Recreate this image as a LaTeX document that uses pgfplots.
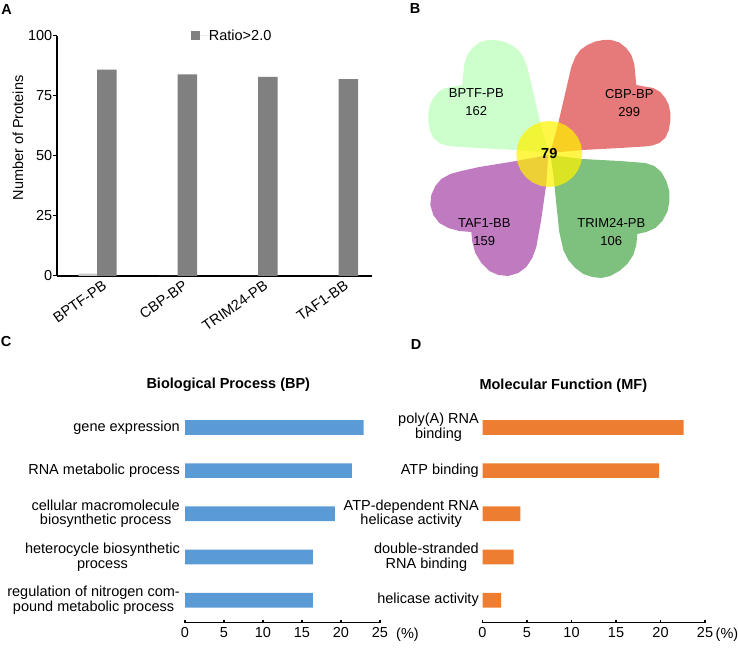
\documentclass[border=0pt]{standalone}
\usepackage{pgfplots}
\pgfplotsset{compat=1.18}
\usepackage{fontspec}
\setmainfont{Liberation Sans}
\definecolor{barA}{RGB}{128,128,128}
\definecolor{barAlight}{RGB}{200,200,200}
\definecolor{barC}{RGB}{91,155,213}
\definecolor{barD}{RGB}{237,125,49}
\definecolor{pBPTF}{RGB}{204,255,204}
\definecolor{pCBP}{RGB}{230,122,122}
\definecolor{pTAF}{RGB}{192,122,192}
\definecolor{pTRIM}{RGB}{126,192,126}
\newcommand\fs{\fontsize{14.5bp}{16bp}\selectfont}
\newcommand\fst{\fontsize{14.5bp}{14.5bp}\selectfont}
\newcommand\fsb{\fontsize{13bp}{18bp}\selectfont}
\pgfplotsset{/pgf/number format/assume math mode=true,
  tick label style={font=\fs}}
\begin{document}
\fs
\begin{tikzpicture}
\path[use as bounding box] (0bp,0bp) rectangle (738bp,650bp);
% ---------- Panel letters ----------
\node[font=\fs\bfseries] at (6.7bp,640.8bp) {A};
\node[font=\fs\bfseries] at (415bp,641.7bp) {B};
\node[font=\fs\bfseries] at (6bp,308.3bp) {C};
\node[font=\fs\bfseries] at (416bp,305bp) {D};
% ---------- Panel A ----------
\begin{axis}[
  at={(57bp,374bp)}, anchor=south west, scale only axis,
  width=315bp, height=240bp,
  xmin=-0.621, xmax=3.292, ymin=0, ymax=100,
  axis x line=bottom, axis y line=left,
  axis line style={-, line width=1.3bp, black},
  ytick={0,25,50,75,100}, tick align=outside, major tick length=4bp,
  ytick style={line width=1bp, black},
  y tick label style={inner sep=0.5bp},
  xtick={0,1,2,3}, xticklabels={BPTF-PB,CBP-BP,TRIM24-PB,TAF1-BB},
  xtick style={draw=none},
  x tick label style={rotate=35, anchor=north east, inner sep=1bp, yshift=4bp, xshift=-3bp},
  legend style={draw=none, fill=none, inner sep=0pt, at={(0.4244,1.0)}, anchor=west, font=\fs,
    nodes={inner sep=0pt}},
]
\addplot[ybar, bar width=19.5bp, bar shift=0pt, fill=barAlight, draw=none, forget plot]
  coordinates {(-0.23,1) (0.77,0) (1.77,0) (2.77,0)};
\addplot[ybar, bar width=19.5bp, bar shift=0pt, fill=barA, draw=none,
  legend image code/.code={\fill[barA] (0bp,-4.5bp) rectangle (9bp,4.5bp); \path (0bp,0bp) -- (18bp,0bp);}]
  coordinates {(0,86) (1,84) (2,83) (3,82)};
\addlegendentry{Ratio>2.0}
\end{axis}
\node[rotate=90, font=\fs] at (18bp,512bp) {Number of Proteins};
% ---------- Panel B ----------
\begin{axis}[
  at={(549.3bp,496bp)}, anchor=center, scale only axis,
  width=260bp, height=260bp, xmin=-130, xmax=130, ymin=-130, ymax=130,
  hide axis, clip=false]
\addplot[fill=pCBP, draw=none] coordinates {(1,1) (9,31) (22,87) (26,97) (31,104) (38,109) (46,112.5) (54,114) (62,114) (70,111.5) (77,106) (82,99) (85,90) (86,80) (87,69) (95,67.5) (104,66) (111,62) (116,56) (119.5,49) (121,41) (121,33) (119.5,24) (116,16) (110,11) (103,8.5) (95,7.5) (71,6) (33,4) (1,1)};
\addplot[fill=pBPTF, draw=none] coordinates {(-1,1) (-9,31) (-22,87) (-26,97) (-31,104) (-38,109) (-46,112.5) (-54,114) (-62,114) (-70,111.5) (-77,106) (-82,99) (-85,90) (-86,80) (-87,69) (-95,67.5) (-104,66) (-111,62) (-116,56) (-119.5,49) (-121,41) (-121,33) (-119.5,24) (-116,16) (-110,11) (-103,8.5) (-95,7.5) (-71,6) (-33,4) (-1,1)};
\addplot[fill=pTRIM, draw=none] coordinates {(1,-1) (4,-20) (7,-50) (10,-78) (14,-96) (19,-106) (26,-114) (34,-120) (43,-123) (52,-124) (61,-122) (70,-117) (78,-110) (84,-101) (87,-91) (88,-80) (97,-78) (106,-74) (113,-67) (118,-58) (120,-48) (120,-37) (117,-27) (112,-18) (105,-12) (96,-9) (70,-7) (33,-5) (1,-1)};
\addplot[fill=pTAF, draw=none] coordinates {(-1,-1) (-33,-7) (-70,-13) (-88,-17) (-99,-20) (-108,-25) (-114,-32) (-118,-41) (-119,-51) (-116,-61) (-110,-69) (-101,-74) (-90,-77) (-78,-78) (-77,-88) (-74,-99) (-68,-109) (-60,-117) (-51,-121) (-41,-122) (-31,-119) (-23,-113) (-17,-104) (-13,-93) (-8,-65) (-3,-30) (-1,-1)};
\addplot[fill=yellow, fill opacity=0.72, draw=none] coordinates {(33,0) (31.88,8.54) (28.58,16.5) (23.33,23.33) (16.5,28.58) (8.54,31.88) (0,33) (-8.54,31.88) (-16.5,28.58) (-23.33,23.33) (-28.58,16.5) (-31.88,8.54) (-33,0) (-31.88,-8.54) (-28.58,-16.5) (-23.33,-23.33) (-16.5,-28.58) (-8.54,-31.88) (0,-33) (8.54,-31.88) (16.5,-28.58) (23.33,-23.33) (28.58,-16.5) (31.88,-8.54) (33,0)};
\node[font=\fsb, align=center] at (axis cs:-73,52) {BPTF-PB\\162};
\node[font=\fsb, align=center] at (axis cs:80,51) {CBP-BP\\299};
\node[font=\fsb, align=center] at (axis cs:-65,-78.5) {TAF1-BB\\159};
\node[font=\fsb, align=center] at (axis cs:62,-78.5) {TRIM24-PB\\106};
\node[font=\fs\bfseries] at (axis cs:0,0) {79};
\end{axis}
% ---------- Panel C ----------
\node[font=\fs\bfseries] at (228.3bp,265bp) {Biological Process (BP)};
\begin{axis}[
  at={(185bp,27.3bp)}, anchor=south west, scale only axis,
  width=195bp, height=216.9bp,
  xmin=0, xmax=25, ymin=-0.52, ymax=4.5,
  axis x line=bottom, axis y line=left,
  axis line style={-, line width=1.3bp, black},
  y axis line style={draw=none},
  xtick={0,5,10,15,20,25}, tick align=inside, major tick length=3bp,
  xtick style={line width=1.2bp, black},
  ytick={0,1,2,3,4}, ytick style={draw=none},
  yticklabels={{regulation of nitrogen com-\\pound metabolic process},{heterocycle biosynthetic\\process},{cellular macromolecule\\biosynthetic process},{RNA metabolic process},{gene expression}},
  y tick label style={align=center, anchor=east, inner sep=0pt, xshift=-5bp, font=\fst},
]
\addplot[xbar, bar width=14.7bp, bar shift=0pt, fill=barC, draw=none]
  coordinates {(16.4,0) (16.4,1) (19.2,2) (21.4,3) (22.9,4)};
\end{axis}
\node[font=\fs, anchor=base] at (407.5bp,11.8bp) {(\%)};
% ---------- Panel D ----------
\node[font=\fs\bfseries] at (563.3bp,264bp) {Molecular Function (MF)};
\begin{axis}[
  at={(482.5bp,27.3bp)}, anchor=south west, scale only axis,
  width=222.5bp, height=216.9bp,
  xmin=0, xmax=25, ymin=-0.52, ymax=4.5,
  axis x line=bottom, axis y line=left,
  axis line style={-, line width=1.3bp, black},
  y axis line style={draw=none},
  xtick={0,5,10,15,20,25}, tick align=inside, major tick length=3bp,
  xtick style={line width=1.2bp, black},
  ytick={0,1,2,3,4}, ytick style={draw=none},
  yticklabels={{helicase activity},{double-stranded\\RNA binding},{ATP-dependent RNA\\helicase activity},{ATP binding},{poly(A) RNA\\binding}},
  y tick label style={align=center, anchor=east, inner sep=0pt, xshift=-3.5bp, font=\fst},
]
\addplot[xbar, bar width=14.7bp, bar shift=0pt, fill=barD, draw=none]
  coordinates {(2.1,0) (3.5,1) (4.25,2) (19.85,3) (22.6,4)};
\end{axis}
\node[font=\fs, anchor=base] at (727bp,11.8bp) {(\%)};
\end{tikzpicture}
\end{document}
